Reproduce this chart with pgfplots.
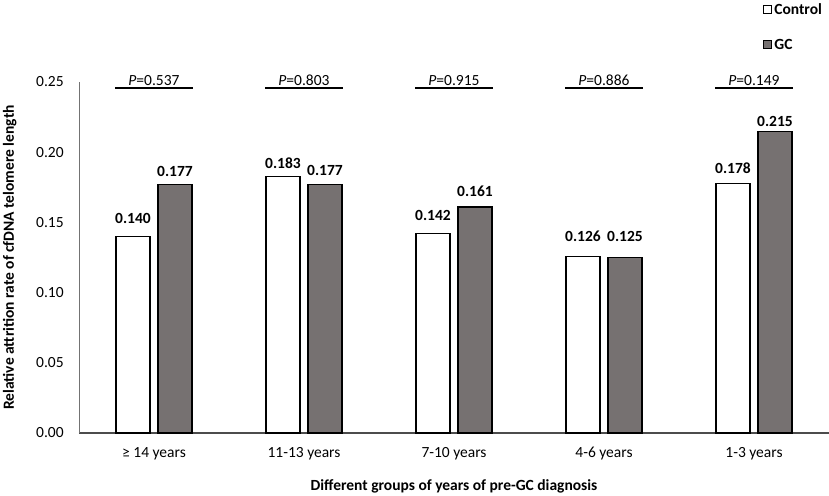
\documentclass[border=0pt]{standalone}
\usepackage{fontspec}
\setmainfont{Carlito}
\usepackage{pgfplots}
\usepackage{pgfplotstable}
\pgfplotsset{compat=1.18}
\definecolor{gcgray}{RGB}{118,113,113}
\newcommand{\fs}{\fontsize{15.5}{18}\selectfont}
\pgfplotstableread{
x y gap
0 0.140 13
1 0.183 8
2 0.142 13
3 0.126 15
4 0.178 10
}\control
\pgfplotstableread{
x y gap
0 0.177 8
1 0.177 9
2 0.161 10
3 0.125 16
4 0.215 5
}\gc
\begin{document}
\begin{tikzpicture}
\begin{axis}[
  name=ax,
  scale only axis, width=750pt, height=351pt,
  xmin=-0.5, xmax=4.5, ymin=0, ymax=0.25,
  clip=false,
  ybar, bar width=0.227,
  axis lines=left, axis line style={-},
  x axis line style={black!70, line width=1.1pt},
  y axis line style={black!55, line width=0.8pt},
  tick style={draw=none},
  xtick={0,1,2,3,4},
  xticklabels={{≥ 14 years},{11-13 years},{7-10 years},{4-6 years},{1-3 years}},
  ytick={0,0.05,0.10,0.15,0.20,0.25},
  /pgf/number format/assume math mode=true,
  yticklabel={\pgfmathprintnumber[fixed,precision=2,zerofill]{\tick}},
  yticklabel style={font=\fs, inner sep=0pt, anchor=east, xshift=-13pt},
  xticklabel style={font=\fs, inner sep=0pt, anchor=north, yshift=-12pt},
  xlabel={Different groups of years of pre-GC diagnosis},
  xlabel style={font=\fs\bfseries, at={(axis description cs:0.5,0)}, anchor=base, yshift=-57pt},
  ylabel={Relative attrition rate of cfDNA telomere length},
  ylabel style={font=\fs\bfseries, at={(axis description cs:-0.0867,0.5)}, anchor=base, rotate=0},
  legend style={draw=none, fill=none, inner sep=0pt, outer sep=0pt,
    at={(rel axis cs:0.912,1.222)}, anchor=north west, row sep=25pt,
    font=\fs\bfseries, nodes={inner sep=0pt, text height=10pt, text depth=0pt}},
  legend cell align=left,
  barlbl/.style={visualization depends on={\thisrow{gap} \as \lblgap},
    nodes near coords={\pgfmathprintnumber[fixed,precision=3,zerofill]{\pgfplotspointmeta}},
    nodes near coords style={font=\fs\bfseries, anchor=base, inner sep=0pt, yshift=\lblgap pt}},
]
\addplot[bar shift=-0.14, barlbl, draw=black, line width=1.1pt, fill=white,
  legend image code/.code={\draw[draw=black, line width=0.8pt, fill=white] (0pt,-4pt) rectangle (8pt,4pt);}]
  table[x=x, y=y] {\control};
\addlegendentry{\,Control}
\addplot[bar shift=0.14, barlbl, draw=black, line width=1.1pt, fill=gcgray,
  legend image code/.code={\draw[draw=black, line width=0.8pt, fill=gcgray] (0pt,-4pt) rectangle (8pt,4pt);}]
  table[x=x, y=y] {\gc};
\addlegendentry{\,GC}
\addplot[sharp plot, black, line width=2pt, forget plot] coordinates {(-0.257,0.2457) (0.257,0.2457)}
  node[pos=0.5, anchor=base, yshift=3pt, font=\fs] {\textit{P}=0.537};
\addplot[sharp plot, black, line width=2pt, forget plot] coordinates {(0.743,0.2457) (1.257,0.2457)}
  node[pos=0.5, anchor=base, yshift=3pt, font=\fs] {\textit{P}=0.803};
\addplot[sharp plot, black, line width=2pt, forget plot] coordinates {(1.743,0.2457) (2.257,0.2457)}
  node[pos=0.5, anchor=base, yshift=3pt, font=\fs] {\textit{P}=0.915};
\addplot[sharp plot, black, line width=2pt, forget plot] coordinates {(2.743,0.2457) (3.257,0.2457)}
  node[pos=0.5, anchor=base, yshift=3pt, font=\fs] {\textit{P}=0.886};
\addplot[sharp plot, black, line width=2pt, forget plot] coordinates {(3.743,0.2457) (4.257,0.2457)}
  node[pos=0.5, anchor=base, yshift=3pt, font=\fs] {\textit{P}=0.149};
\end{axis}
\pgfresetboundingbox
\path[use as bounding box] ([shift={(-79pt,-62pt)}]ax.south west) rectangle ([shift={(750pt,433pt)}]ax.south west);
\end{tikzpicture}
\end{document}
